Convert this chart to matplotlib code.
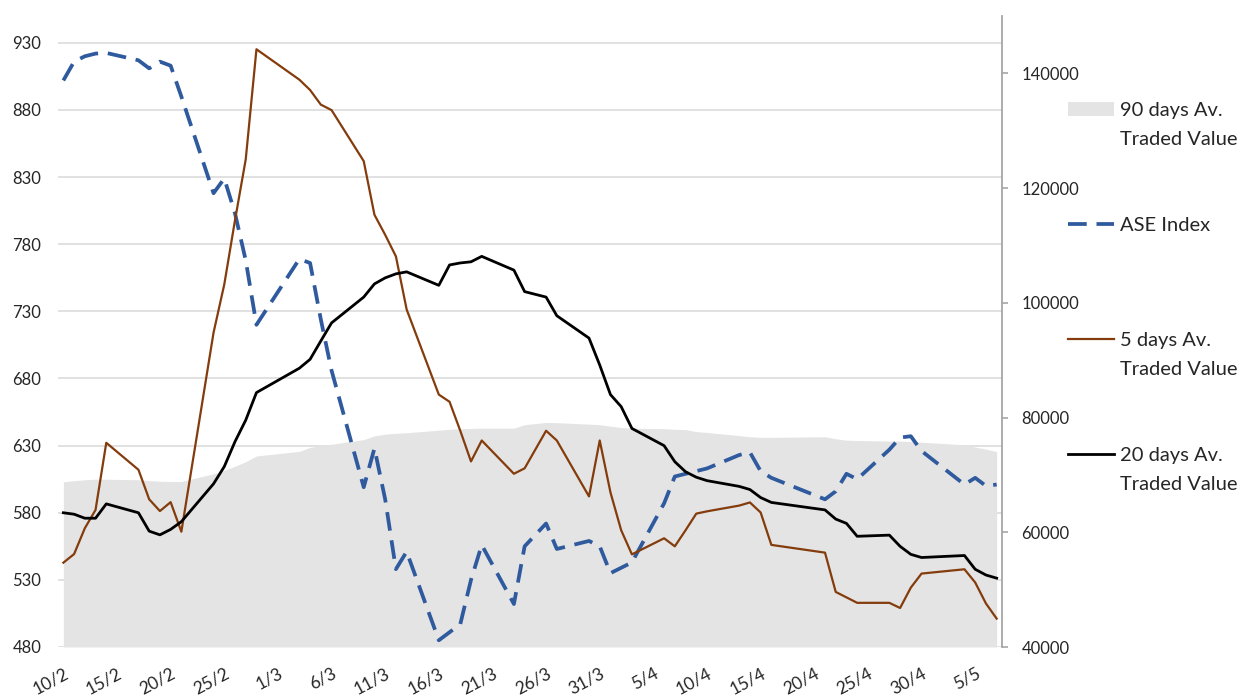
# ASE index vs traded value averages, Feb-May 2020
import numpy as np
import pandas as pd
import matplotlib
matplotlib.use('Agg')
import matplotlib.pyplot as plt
from matplotlib.lines import Line2D

# data
trade_dates = ['2020-02-10', '2020-02-11', '2020-02-12', '2020-02-13', '2020-02-14',
               '2020-02-17', '2020-02-18', '2020-02-19', '2020-02-20', '2020-02-21',
               '2020-02-24', '2020-02-25', '2020-02-26', '2020-02-27', '2020-02-28',
               '2020-03-03', '2020-03-04', '2020-03-05', '2020-03-06',
               '2020-03-09', '2020-03-10', '2020-03-11', '2020-03-12', '2020-03-13',
               '2020-03-16', '2020-03-17', '2020-03-18', '2020-03-19', '2020-03-20',
               '2020-03-23', '2020-03-24', '2020-03-26', '2020-03-27',
               '2020-03-30', '2020-03-31', '2020-04-01', '2020-04-02', '2020-04-03',
               '2020-04-06', '2020-04-07', '2020-04-08', '2020-04-09', '2020-04-10',
               '2020-04-13', '2020-04-14', '2020-04-15', '2020-04-16',
               '2020-04-21', '2020-04-22', '2020-04-23', '2020-04-24',
               '2020-04-27', '2020-04-28', '2020-04-29', '2020-04-30',
               '2020-05-04', '2020-05-05', '2020-05-06', '2020-05-07']

ase_index = [902, 916, 920, 922, 922.5,
             917, 911, 916, 913, 890,
             818, 829, 803, 768, 720,
             769, 766, 724, 686,
             599, 628, 590, 538, 551,
             485, 491, 497, 530, 556,
             512, 555, 572, 553,
             559, 555, 535, 539, 543,
             587, 607, 609, 611, 613,
             623, 625, 611, 606,
             590, 596, 609, 605,
             627, 636, 637, 626,
             601, 606, 600, 601]

av5_value = [54700, 56200, 60700, 63900, 75600,
             70900, 65750, 63700, 65250, 60100,
             94800, 103200, 114400, 125000, 144200,
             138900, 137100, 134550, 133600,
             124700, 115350, 111850, 108100, 98850,
             84000, 82750, 77700, 72350, 76000,
             70200, 71150, 77700, 76000,
             66250, 76000, 66950, 60350, 56150,
             58950, 57550, 60350, 63250, 63650,
             64650, 65200, 63450, 57800,
             56450, 49600, 48650, 47700,
             47700, 46800, 50350, 52800,
             53550, 51250, 47600, 44950]

av20_value = [63400, 63150, 62450, 62450, 64950,
              63400, 60200, 59550, 60500, 61850,
              68450, 71450, 75800, 79550, 84350,
              88600, 90150, 93350, 96500,
              101000, 103300, 104350, 105050, 105400,
              103050, 106600, 106950, 107150, 108100,
              105700, 101950, 101000, 97750,
              93850, 89150, 84000, 81900, 78100,
              75100, 72300, 70550, 69600, 69000,
              68000, 67450, 66050, 65200,
              63900, 62300, 61550, 59300,
              59500, 57550, 56150, 55600,
              55950, 53550, 52550, 52000]

av90_value = [68800, 69000, 69150, 69250, 69250,
              69150, 69000, 68900, 68850, 68850,
              70200, 70800, 71500, 72300, 73300,
              74100, 74800, 75100, 75350,
              76150, 76800, 77100, 77250, 77350,
              77800, 77950, 78050, 78100, 78150,
              78150, 78750, 79150, 79100,
              78850, 78750, 78500, 78250, 78150,
              78050, 77950, 77900, 77550, 77400,
              76850, 76650, 76550, 76550,
              76650, 76300, 76050, 76000,
              75900, 75900, 75800, 75700,
              75250, 74850, 74500, 74050]

tick_dates = pd.date_range('2020-02-10', '2020-05-05', freq='5D')
tick_labels = [f'{d.day}/{d.month}' for d in tick_dates]

dates = pd.to_datetime(trade_dates)

plt.rcParams['font.family'] = ['Lato', 'DejaVu Sans']
txt = '#262626'

fig = plt.figure(figsize=(12.4, 6.97), dpi=100)
ax = fig.add_axes([58/1240, 50/697, 944/1240, 631/697])
ax2 = ax.twinx()

# right axis: traded values
fill = ax2.fill_between(dates, 40000, av90_value, color='#E4E4E4', lw=0, zorder=1)
# ASE index drawn with the left axis scale but above the grey area
ase_line, = ax2.plot(dates, ase_index, transform=ax.transData, color='#2F5A9E',
                     lw=2.7, linestyle=(0, (5, 2.6)), zorder=2)
l5, = ax2.plot(dates, av5_value, color='#843C0C', lw=1.6, zorder=3)
l20, = ax2.plot(dates, av20_value, color='black', lw=2.0, zorder=4)

ax.set_ylim(480, 950)
ax.set_yticks(np.arange(480, 931, 50))
ax.grid(axis='y', color='#D9D9D9', lw=1.1)
ax.set_axisbelow(True)
for s in ax.spines.values():
    s.set_visible(False)
ax.tick_params(axis='y', length=0, pad=12, labelsize=12, labelcolor=txt)

ax2.set_ylim(40000, 150000)
ax2.set_yticks(np.arange(40000, 140001, 20000))
for k in ['top', 'left', 'bottom']:
    ax2.spines[k].set_visible(False)
ax2.spines['right'].set_color('#A6A6A6')
ax2.spines['right'].set_linewidth(1.3)
ax2.tick_params(axis='y', direction='out', length=4, width=1.2, color='#A6A6A6',
                pad=10, labelsize=12, labelcolor=txt)

ax.set_xlim(pd.Timestamp('2020-02-10') - pd.Timedelta(hours=12),
            pd.Timestamp('2020-05-07') + pd.Timedelta(hours=12))
ax.set_xticks(tick_dates)
ax.set_xticklabels(tick_labels, rotation=28, ha='right', va='top',
                   rotation_mode='anchor', fontsize=12.5, color=txt)
ax.tick_params(axis='x', length=0, pad=13)

# legend: one label line per row, blank rows keep Excel-like spacing
blank = Line2D([], [], color='none')
handles = [fill, blank, blank, blank, ase_line, blank, blank, blank,
           l5, blank, blank, blank, l20, blank]
labels = ['90 days Av.', 'Traded Value', ' ', ' ', 'ASE Index', ' ', ' ', ' ',
          '5 days Av.', 'Traded Value', ' ', ' ', '20 days Av.', 'Traded Value']
ax2.legend(handles, labels, loc='upper left', bbox_to_anchor=(1068/1240, 1 - 102/697),
           bbox_transform=fig.transFigure, frameon=False, fontsize=14.5,
           handlelength=2.3, handletextpad=0.3, labelspacing=0.58,
           borderpad=0, borderaxespad=0, labelcolor=txt)

fig.savefig('out.png', dpi=100)
